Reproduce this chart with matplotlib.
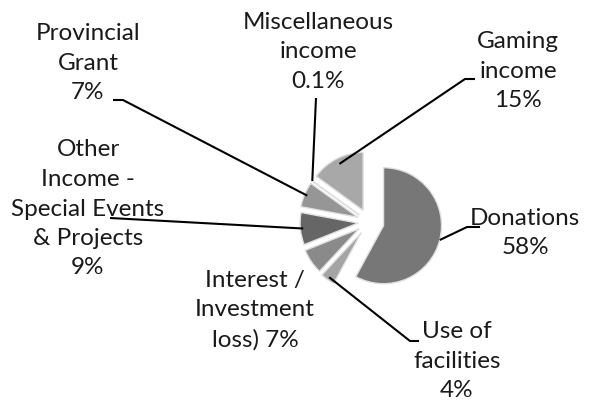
import numpy as np
import matplotlib.pyplot as plt

plt.rcParams['font.family'] = ['Lato', 'DejaVu Sans']

labels = ['Donations', 'Use of\nfacilities', 'Interest /\nInvestment\nloss)',
          'Other\nIncome -\nSpecial Events\n& Projects', 'Provincial\nGrant',
          'Miscellaneous\nincome', 'Gaming\nincome']
pct_text = ['58%', '4%', '7%', '9%', '7%', '0.1%', '15%']
values = [58, 4, 7, 9, 7, 0.1, 15]
# explode offsets in pixels (matplotlib uses absolute data units)
explode = [15, 13, 12, 11, 12, 12, 13]
colors = ['#777777', '#a4a4a4', '#8a8a8a', '#666666', '#969696', '#9a9a9a', '#a8a8a8']

W, H = 595, 400
fig = plt.figure(figsize=(5.95, 4), dpi=100)
ax = fig.add_axes([0, 0, 1, 1])
ax.set_xlim(0, W)
ax.set_ylim(0, H)
ax.set_aspect('equal')
ax.axis('off')

cx, cy, R = 369, H - 222, 58
wedges, _ = ax.pie(values, explode=explode, colors=colors, startangle=90,
                   counterclock=False, radius=R, center=(cx, cy),
                   wedgeprops=dict(edgecolor='#e0e0e0', linewidth=1.0))
ax.set_xlim(0, W)
ax.set_ylim(0, H)

# label layout: text centre (x, y from top), line path from text (y from top), anchor distance
layout = {
    0: dict(txt=(525, 233), path=[(480, 227), (467, 227)], d=1.0),
    1: dict(txt=(457, 361), path=[(419, 341), (410, 341)], d=0.95),
    2: dict(txt=(255, 310), path=None, d=1.0),
    3: dict(txt=(88, 209), path=[(110, 218)], d=0.95),
    4: dict(txt=(88, 63), path=[(113, 100), (123, 100)], d=0.95),
    5: dict(txt=(318, 52), path=[(316, 98)], d=1.0),
    6: dict(txt=(518, 71), path=[(475, 79), (465, 79)], d=0.9),
}

for i, w in enumerate(wedges):
    lay = layout[i]
    tx, ty = lay['txt']
    ax.text(tx, H - ty, labels[i] + ('\n' if i != 2 else ' ') + pct_text[i],
            ha='center', va='center', fontsize=17.5, color='#1a1a1a',
            linespacing=1.5)
    if lay['path'] is None:
        continue
    ang = np.deg2rad((w.theta1 + w.theta2) / 2)
    wx, wy = w.center
    ax_pt = (wx + lay['d'] * w.r * np.cos(ang), wy + lay['d'] * w.r * np.sin(ang))
    xs = [p[0] for p in lay['path']] + [ax_pt[0]]
    ys = [H - p[1] for p in lay['path']] + [ax_pt[1]]
    ax.plot(xs, ys, color='black', lw=1.5, solid_capstyle='butt')

fig.savefig('out.png', dpi=100)
